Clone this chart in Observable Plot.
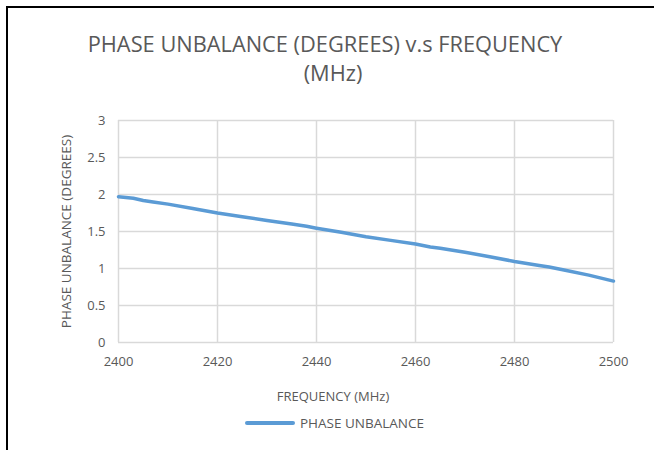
<!DOCTYPE html>
<html>
<head>
<meta charset="utf-8">
<script src="https://cdn.jsdelivr.net/npm/d3@7"></script>
<script src="https://cdn.jsdelivr.net/npm/@observablehq/plot@0.6"></script>
<style>
  html, body { margin: 0; padding: 0; background: #fff; }
  #wrap { position: relative; width: 654px; height: 450px; overflow: hidden; font-family: "Open Sans", sans-serif; color: #595959; }
  #frame { position: absolute; left: 6px; top: 6px; width: 660px; height: 460px; border-top: 2px solid #000; border-left: 2px solid #000; }
  #title { position: absolute; left: 0; top: 29px; width: 666px; text-align: center; font-size: 21.8px; line-height: 29px; }
  #title .l1 { position: relative; left: -8px; }
  #chart { position: absolute; left: 0; top: 100px; }
  #xlabel { position: absolute; left: 0; top: 387px; width: 666px; text-align: center; font-size: 13px; }
  #legend { position: absolute; left: 245px; top: 414px; font-size: 13.5px; display: flex; align-items: center; }
  #legend .sw { width: 50px; height: 4px; background: #5b9bd5; border-radius: 2px; margin-right: 5px; }
</style>
</head>
<body>
<div id="wrap">
  <div id="frame"></div>
  <div id="title"><span class="l1">PHASE UNBALANCE (DEGREES) v.s FREQUENCY</span><br>(MHz)</div>
  <div id="chart"></div>
  <div id="xlabel">FREQUENCY (MHz)</div>
  <div id="legend"><div class="sw"></div><span>PHASE UNBALANCE</span></div>
</div>
<script>
const frequency = [2400, 2403, 2405, 2407, 2410, 2415, 2420, 2425, 2430, 2435, 2438, 2440, 2445, 2450, 2455, 2460, 2463, 2465, 2470, 2475, 2480, 2485, 2487, 2490, 2495, 2500];
const phaseUnbalance = [1.97, 1.95, 1.92, 1.90, 1.87, 1.81, 1.75, 1.70, 1.65, 1.60, 1.57, 1.545, 1.49, 1.43, 1.38, 1.33, 1.29, 1.275, 1.22, 1.16, 1.095, 1.04, 1.02, 0.98, 0.91, 0.83];
const xTicks = [2400, 2420, 2440, 2460, 2480, 2500];
const yTicks = [0, 0.5, 1, 1.5, 2, 2.5, 3];

const data = frequency.map((f, i) => ({f, v: phaseUnbalance[i]}));

const chart = Plot.plot({
  width: 654,
  height: 270,
  marginLeft: 118,
  marginRight: 41,
  marginTop: 20,
  marginBottom: 28,
  style: { fontFamily: "'Open Sans', sans-serif", fontSize: "13px", color: "#595959", background: "transparent" },
  x: { domain: [2400, 2500], ticks: xTicks, tickSize: 0, tickPadding: 14, label: null, tickFormat: d => String(d) },
  y: { domain: [0, 3], ticks: yTicks, tickSize: 0, tickPadding: 13, label: null, tickFormat: d => String(d) },
  marks: [
    Plot.gridX(xTicks, { stroke: "#d9d9d9", strokeOpacity: 1, strokeWidth: 1.5 }),
    Plot.gridY(yTicks, { stroke: "#d9d9d9", strokeOpacity: 1, strokeWidth: 1.5 }),
    Plot.line(data, { x: "f", y: "v", stroke: "#5b9bd5", strokeWidth: 3.5, strokeLinejoin: "round", strokeLinecap: "round" }),
    Plot.text(["PHASE UNBALANCE (DEGREES)"], { frameAnchor: "left", textAnchor: "middle", dx: -52, rotate: -90, fontSize: 13.5, fill: "#595959" })
  ]
});
document.getElementById("chart").appendChild(chart);
</script>
</body>
</html>
